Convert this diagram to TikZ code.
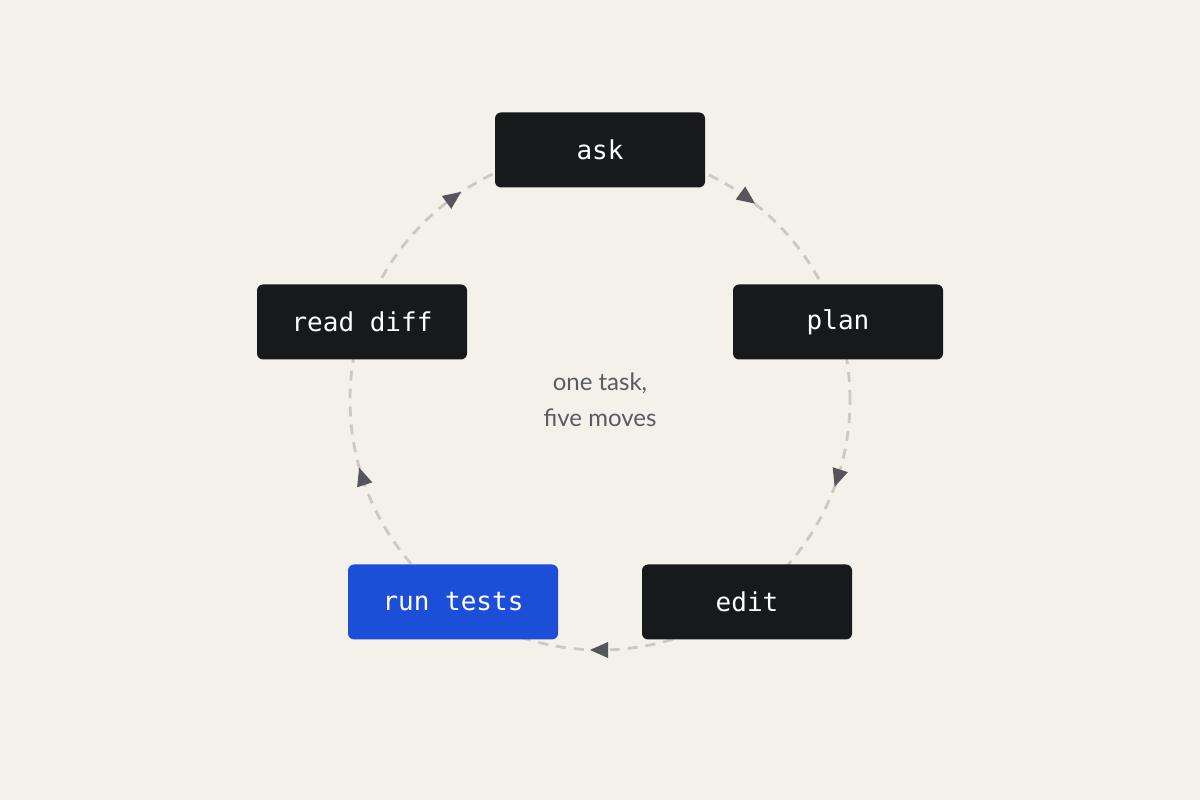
\documentclass[tikz,border=0pt]{standalone}
\usepackage{fontspec}
\setmainfont{Lato}
\newfontfamily\monof{DejaVu Sans Mono}
\definecolor{bg}{HTML}{F3F1E9}
\definecolor{boxc}{HTML}{18191B}
\definecolor{bluec}{HTML}{1D4ED8}
\definecolor{arcc}{HTML}{CDC9BC}
\definecolor{tipc}{HTML}{55565C}
\definecolor{txtc}{HTML}{5A5B60}
\begin{document}
\begin{tikzpicture}[x=1pt,y=1pt,
  box/.style={fill=boxc,rounded corners=6pt,minimum width=210pt,minimum height=75pt,inner sep=0pt,text=white,font=\monof\fontsize{26}{30}\selectfont},
  loop/.style={draw=arcc,line width=2.8pt,dash pattern=on 10pt off 8pt},
  tip/.style={fill=tipc}]
\fill[bg] (0,0) rectangle (1200,800);
\useasboundingbox (0,0) rectangle (1200,800);
\coordinate (c) at (600,400);
\draw[loop] (c) circle[radius=250pt];
\foreach \a in {54,-18,-90,-162,126}{
  \fill[tip,shift={(600,400)},rotate=\a] (250,-10) -- (242,8) -- (258,8) -- cycle;
}
\node[box] (ask) at (600,650) {ask};
\node[box] (plan) at (838,478) {plan};
\node[box] (edit) at (747,198) {edit};
\node[box,fill=bluec] (run) at (453,198) {run tests};
\node[box] (read) at (362,478) {read diff};
\node[text=txtc,font=\fontsize{24}{36}\selectfont,align=center] (mid) at (600,400) {one task,\\five moves};
\end{tikzpicture}
\end{document}
